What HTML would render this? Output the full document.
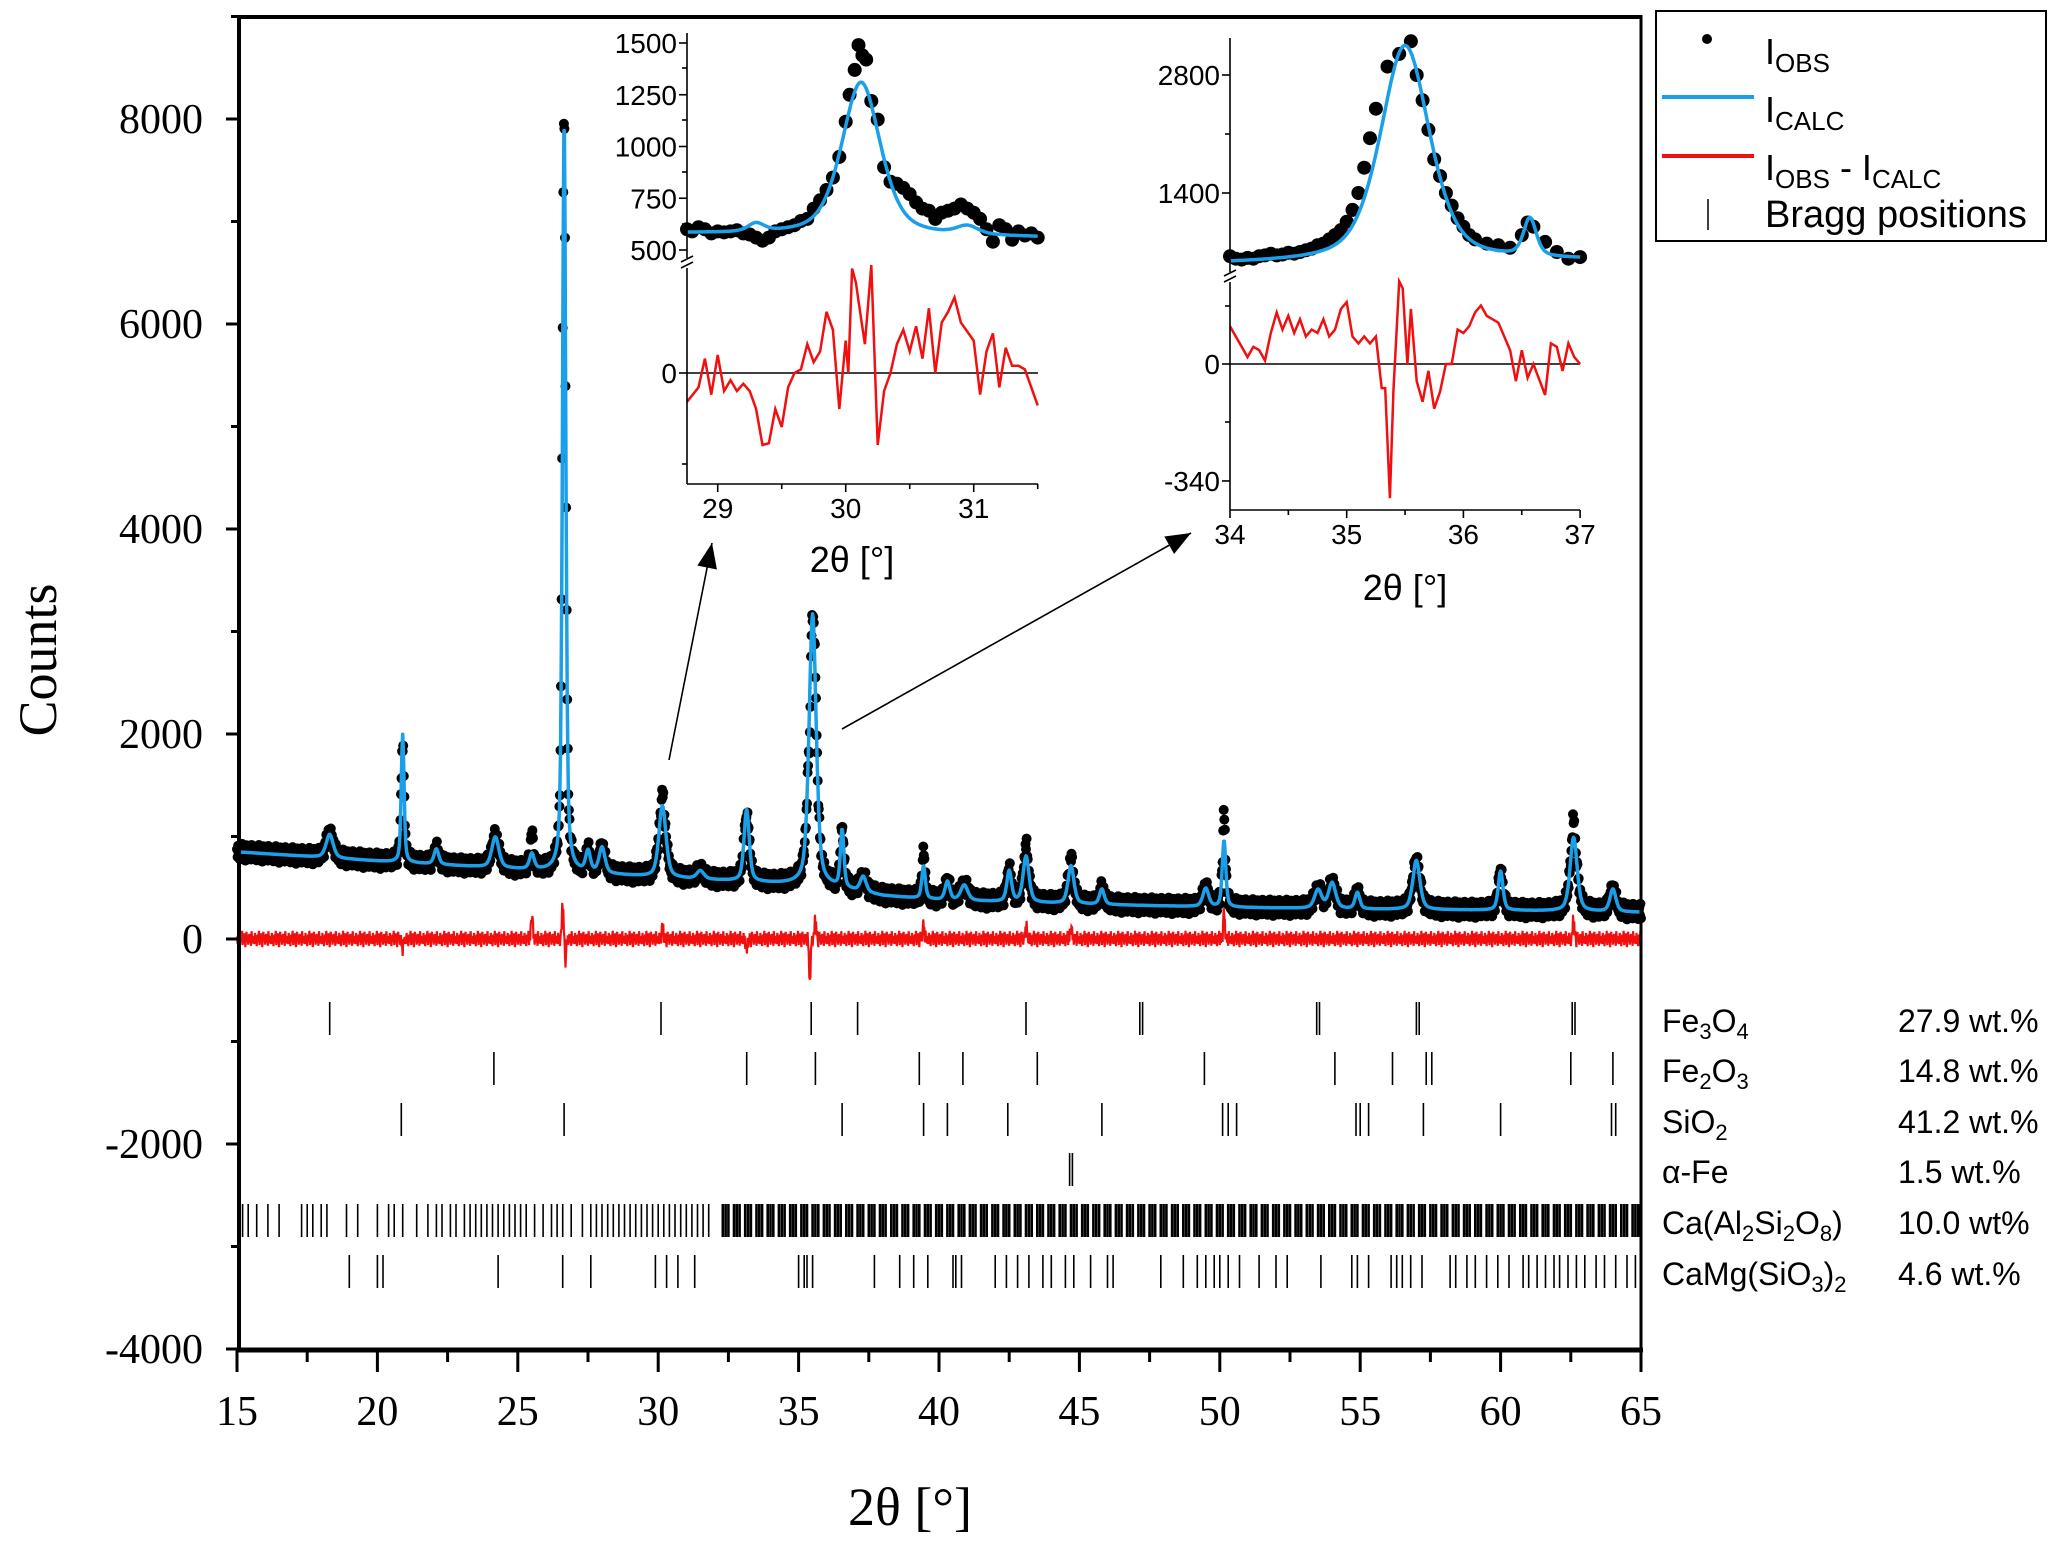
<!DOCTYPE html>
<html><head><meta charset="utf-8"><style>
html,body{margin:0;padding:0;background:#fff;}
svg{display:block;}
.serif{font-family:"Liberation Serif",serif;}
.sans{font-family:"Liberation Sans Narrow","Liberation Sans",sans-serif;}
</style></head><body>
<svg id="chart" width="2067" height="1547" viewBox="0 0 2067 1547" xmlns="http://www.w3.org/2000/svg">
<g id="main"></g>
<g id="inset1"></g>
<g id="inset2"></g>
<g id="legend">
  <rect x="1656" y="11" width="390" height="230" fill="#fff" stroke="#000" stroke-width="2"/>
  <circle cx="1707" cy="39" r="5" fill="#000"/>
  <text class="sans" x="1765" y="64" font-size="36">I<tspan font-size="26" dy="8">OBS</tspan></text>
  <line x1="1662" y1="97" x2="1754" y2="97" stroke="#1a9fe8" stroke-width="4"/>
  <text class="sans" x="1765" y="122" font-size="36">I<tspan font-size="26" dy="8">CALC</tspan></text>
  <line x1="1662" y1="156" x2="1754" y2="156" stroke="#f01010" stroke-width="4"/>
  <text class="sans" x="1765" y="180" font-size="36">I<tspan font-size="26" dy="8">OBS</tspan><tspan dy="-8"> - I</tspan><tspan font-size="26" dy="8">CALC</tspan></text>
  <line x1="1708" y1="199" x2="1708" y2="230" stroke="#000" stroke-width="1.5"/>
  <text class="sans" x="1765" y="227" font-size="38">Bragg positions</text>
</g>
</svg>
<script>
// ===== main pattern data =====
const bgX = [15,20,25,27,30,33,36,38,40,45,50,55,60,65];
const bgY = [850,760,680,650,600,560,510,420,380,340,310,290,280,260];
const peakPos = [18.3,20.9,22.1,24.2,25.5,26.65,27.5,28.0,30.15,31.5,33.15,35.5,36.55,37.3,39.45,40.3,40.9,42.5,43.1,44.7,45.8,49.5,50.15,53.5,54.0,54.9,57.0,60.0,62.6,64.0];
const peakHeight = [230,1250,150,300,150,7350,200,250,700,80,700,2650,560,150,320,180,150,300,450,370,150,180,650,180,250,160,480,380,720,220];
const peakWidth = [0.3,0.12,0.2,0.3,0.2,0.14,0.2,0.25,0.3,0.3,0.22,0.3,0.15,0.25,0.15,0.2,0.3,0.2,0.25,0.25,0.2,0.25,0.15,0.3,0.3,0.2,0.3,0.2,0.3,0.25];
const residSpikePos = [20.9,25.5,26.6,26.7,30.15,33.15,35.4,35.6,39.45,43.1,44.7,50.15,62.6];
const residSpikeVal = [-100,250,350,-200,120,-120,-420,200,150,130,120,250,200];
const residNoise = [24,-50,60,-16,36,-70,10,44,-30,80,-60,16,-40,56,-10,-80,30,70,-24,40,-56,6,50,-36,20,-66,76,-12,28,-44];
const yTicks = [8000,6000,4000,2000,0,-2000,-4000];
const xTicks = [15,20,25,30,35,40,45,50,55,60,65];
// Bragg positions
const phaseNames = ["Fe3O4","Fe2O3","SiO2","a-Fe","Ca(Al2Si2O8)","CaMg(SiO3)2"];
const phaseWt = ["27.9 wt.%","14.8 wt.%","41.2 wt.%","1.5 wt.%","10.0 wt%","4.6 wt.%"];
const braggFe3O4 = [18.3,30.1,35.45,37.1,43.1,47.15,47.25,53.45,53.55,57.0,57.1,62.55,62.65];
const braggFe2O3 = [24.15,33.15,35.6,39.3,40.85,43.5,49.45,54.1,56.15,57.35,57.55,62.5,64.0];
const braggSiO2 = [20.85,26.65,36.55,39.45,40.3,42.45,45.8,50.1,50.3,50.6,54.85,55.0,55.3,57.25,60.0,63.95,64.1];
const braggFe = [44.65,44.75];
const braggAn = [15.2,15.4,15.7,16.1,16.5,17.3,17.5,17.7,18.0,18.2,18.9,19.3,20.0,20.4,20.6,20.9,21.4,21.8,22.1,22.3,22.6,22.8,23.1,23.3,23.5,23.7,23.9,24.1,24.3,24.5,24.7,24.9,25.1,25.3,25.6,25.9,26.2,26.4,26.6,26.9,27.3,27.6,27.8,28.0,28.2,28.4,28.6,28.8,29.0,29.2,29.4,29.6,29.8,30.0,30.2,30.4,30.6,30.8,31.0,31.2,31.4,31.6,31.8,
32.3,32.4,32.5,32.7,32.8,32.9,33.1,33.2,33.3,33.5,33.6,33.7,33.9,34.0,34.1,34.3,34.4,34.5,34.7,34.8,34.9,35.1,35.2,35.3,35.5,35.6,35.7,35.9,36.0,36.1,36.3,36.4,36.5,36.7,36.8,36.9,37.1,37.2,37.3,37.5,37.6,37.7,37.9,38.0,38.1,38.3,38.4,38.5,38.7,38.8,38.9,39.1,39.2,39.3,39.5,39.6,39.7,39.9,40.0,40.1,40.3,40.4,40.5,40.7,40.8,40.9,41.1,41.2,41.3,41.5,41.6,41.7,41.9,42.0,42.1,42.3,42.4,42.5,42.7,42.8,42.9,43.1,43.2,43.3,43.5,43.6,43.7,43.9,44.0,44.1,44.3,44.4,44.5,44.7,44.8,44.9,45.1,45.2,45.3,45.5,45.6,45.7,45.9,46.0,46.1,46.3,46.4,46.5,46.7,46.8,46.9,47.1,47.2,47.3,47.5,47.6,47.7,47.9,48.0,48.1,48.3,48.4,48.5,48.7,48.8,48.9,49.1,49.2,49.3,49.5,49.6,49.7,49.9,50.0,50.1,50.3,50.4,50.5,50.7,50.8,50.9,51.1,51.2,51.3,51.5,51.6,51.7,51.9,52.0,52.1,52.3,52.4,52.5,52.7,52.8,52.9,53.1,53.2,53.3,53.5,53.6,53.7,53.9,54.0,54.1,54.3,54.4,54.5,54.7,54.8,54.9,55.1,55.2,55.3,55.5,55.6,55.7,55.9,56.0,56.1,56.3,56.4,56.5,56.7,56.8,56.9,57.1,57.2,57.3,57.5,57.6,57.7,57.9,58.0,58.1,58.3,58.4,58.5,58.7,58.8,58.9,59.1,59.2,59.3,59.5,59.6,59.7,59.9,60.0,60.1,60.3,60.4,60.5,60.7,60.8,60.9,61.1,61.2,61.3,61.5,61.6,61.7,61.9,62.0,62.1,62.3,62.4,62.5,62.7,62.8,62.9,63.1,63.2,63.3,63.5,63.6,63.7,63.9,64.0,64.1,64.3,64.4,64.5,64.7,64.8,64.9];
const braggDi = [19.0,20.0,20.2,24.3,26.6,27.6,29.9,30.3,30.7,31.3,35.0,35.2,35.3,35.5,37.7,38.6,39.1,39.6,40.5,40.6,40.8,42.0,42.4,42.8,43.2,43.7,44.0,44.5,44.8,45.4,46.0,46.2,47.9,48.7,49.2,49.5,49.8,50.0,50.3,50.7,51.4,52.0,52.4,53.6,54.7,54.9,55.3,56.1,56.3,56.5,56.8,57.2,58.2,58.4,58.8,59.1,59.5,59.9,60.3,60.8,61.0,61.3,61.6,61.9,62.1,62.4,62.7,63.0,63.4,63.7,64.1,64.5,64.8];

// ===== inset 1 data =====
const in1ObsX = [28.76,28.8,28.85,28.9,28.95,29.0,29.05,29.1,29.15,29.2,29.25,29.3,29.35,29.4,29.45,29.5,29.55,29.6,29.65,29.7,29.75,29.8,29.85,29.9,29.95,30.0,30.03,30.07,30.1,30.13,30.16,30.2,30.25,30.3,30.35,30.4,30.45,30.5,30.55,30.6,30.65,30.7,30.75,30.8,30.85,30.9,30.95,31.0,31.05,31.1,31.15,31.2,31.25,31.3,31.35,31.4,31.45,31.5];
const in1ObsY = [600,590,610,600,580,590,585,590,595,580,575,560,545,560,590,600,610,620,640,650,700,740,790,850,950,1120,1250,1370,1490,1440,1420,1220,1130,900,830,820,800,770,730,700,690,650,680,690,700,720,700,680,650,600,540,620,600,550,590,570,580,560];
const in1PeakPos = [29.3,30.12,30.95];
const in1PeakH = [40,740,40];
const in1PeakW = [0.15,0.36,0.2];
const in1ResX = [28.76,28.85,28.9,28.95,29.0,29.05,29.1,29.15,29.2,29.25,29.3,29.35,29.4,29.45,29.5,29.55,29.6,29.65,29.7,29.75,29.8,29.85,29.9,29.95,30.0,30.02,30.05,30.08,30.1,30.15,30.2,30.25,30.3,30.35,30.4,30.45,30.5,30.55,30.6,30.65,30.7,30.75,30.8,30.85,30.9,31.0,31.05,31.1,31.15,31.2,31.25,31.3,31.35,31.4,31.5];
const in1ResY = [-80,-40,40,-60,50,-50,-20,-50,-30,-50,-100,-200,-195,-100,-150,-40,0,10,80,30,60,170,120,-100,90,0,290,250,200,80,300,-200,-50,0,80,120,60,130,40,180,0,140,170,210,140,90,-60,60,110,-40,70,20,20,10,-90];
const in1YTicks = [500,750,1000,1250,1500];
const in1XTicks = [29,30,31];

// ===== inset 2 data =====
const in2ObsX = [34.0,34.05,34.1,34.15,34.2,34.25,34.3,34.35,34.4,34.45,34.5,34.55,34.6,34.65,34.7,34.75,34.8,34.85,34.9,34.95,35.0,35.05,35.1,35.15,35.2,35.25,35.35,35.45,35.55,35.6,35.65,35.7,35.75,35.8,35.85,35.9,35.95,36.0,36.05,36.1,36.2,36.3,36.4,36.5,36.55,36.6,36.7,36.8,36.9,37.0];
const in2ObsY = [650,620,610,630,620,650,660,680,660,670,690,680,700,720,740,780,800,850,900,960,1060,1200,1400,1700,2050,2400,2900,3050,3200,2800,2500,2150,1800,1600,1400,1250,1100,1000,900,850,800,780,750,900,1050,1000,820,700,620,640];
const in2PeakPos = [35.5,36.57];
const in2PeakH = [2570,450];
const in2PeakW = [0.5,0.13];
const in2ResX = [34.0,34.05,34.1,34.15,34.2,34.25,34.3,34.35,34.4,34.45,34.5,34.55,34.6,34.65,34.7,34.75,34.8,34.85,34.9,34.95,35.0,35.05,35.1,35.15,35.2,35.25,35.3,35.33,35.37,35.4,35.45,35.48,35.52,35.55,35.6,35.65,35.7,35.75,35.8,35.85,35.9,35.95,36.0,36.05,36.1,36.15,36.2,36.3,36.4,36.45,36.5,36.55,36.6,36.7,36.75,36.8,36.85,36.9,36.95,37.0];
const in2ResY = [110,80,50,20,50,40,10,90,150,100,140,90,130,80,100,90,130,80,100,160,180,80,60,80,60,80,-70,-70,-390,-80,240,220,0,160,-50,-110,-20,-130,-80,0,0,100,90,110,150,170,140,120,40,-50,40,-40,0,-90,60,50,-20,60,20,0];
const in2YTicksTop = [1400,2800];
const in2YTicksBot = [0,-340];
const in2XTicks = [34,35,36,37];

// ===== helpers =====
const NS = "http://www.w3.org/2000/svg";
function mk(parent, tag, attrs){ const e=document.createElementNS(NS,tag); for(const k in attrs) e.setAttribute(k,attrs[k]); parent.appendChild(e); return e; }
function pv(x,p,w){ const d=(x-p)/w; return 0.5*Math.exp(-4*Math.LN2*d*d)+0.5/(1+4*d*d); }
function interp(xs,ys,x){ if(x<=xs[0])return ys[0]; for(let i=1;i<xs.length;i++){ if(x<=xs[i]){const t=(x-xs[i-1])/(xs[i]-xs[i-1]); return ys[i-1]+t*(ys[i]-ys[i-1]);} } return ys[ys.length-1]; }

// ===== main scales =====
const X = v => 237 + (v-15)*28.08;
const Y = v => 939 - v*0.1025;
const main = document.getElementById('main');

function calcMain(x){ let s=interp(bgX,bgY,x); for(let i=0;i<peakPos.length;i++) s+=peakHeight[i]*pv(x,peakPos[i],peakWidth[i]); return s; }
function residMain(i,x){ let s=residNoise[i%residNoise.length]; for(let k=0;k<residSpikePos.length;k++){ const d=(x-residSpikePos[k])/0.04; s+=residSpikeVal[k]*Math.exp(-d*d);} return s; }

const xs=[]; for(let x=15;x<=65.0001;x+=0.02) xs.push(x);
const obsG = mk(main,'g',{fill:'#000'});


xs.forEach((x,i)=>{ const yo=calcMain(x)+residMain(i,x); mk(obsG,'circle',{cx:X(x).toFixed(1),cy:Y(yo).toFixed(1),r:5}); });
let d=''; xs.forEach((x,i)=>{ d+=(i?'L':'M')+X(x).toFixed(1)+' '+Y(calcMain(x)).toFixed(1); });
const calcPath = mk(main,'path',{d:d,fill:'none',stroke:'#1a9fe8','stroke-width':3.5,'stroke-linejoin':'round'});


d=''; xs.forEach((x,i)=>{ d+=(i?'L':'M')+X(x).toFixed(1)+' '+Y(residMain(i,x)).toFixed(1); });
const resPath = mk(main,'path',{d:d,fill:'none',stroke:'#f01010','stroke-width':2.2});



// Bragg rows
const rowsData=[braggFe3O4,braggFe2O3,braggSiO2,braggFe,braggAn,braggDi];
const rowTop=[1002,1052,1103,1153,1204,1255];
rowsData.forEach((arr,r)=>{
  const g=mk(main,'g',{stroke:'#000','stroke-width':1.6});
  
  
  arr.forEach(v=>{ mk(g,'line',{x1:X(v).toFixed(1),x2:X(v).toFixed(1),y1:rowTop[r],y2:rowTop[r]+33,'stroke-width':(r===4&&v>32)?2.6:1.6}); });
});
const labelHTML=['Fe<tspan font-size="22" dy="7">3</tspan><tspan dy="-7">O</tspan><tspan font-size="22" dy="7">4</tspan>',
 'Fe<tspan font-size="22" dy="7">2</tspan><tspan dy="-7">O</tspan><tspan font-size="22" dy="7">3</tspan>',
 'SiO<tspan font-size="22" dy="7">2</tspan>','α-Fe',
 'Ca(Al<tspan font-size="22" dy="7">2</tspan><tspan dy="-7">Si</tspan><tspan font-size="22" dy="7">2</tspan><tspan dy="-7">O</tspan><tspan font-size="22" dy="7">8</tspan><tspan dy="-7">)</tspan>',
 'CaMg(SiO<tspan font-size="22" dy="7">3</tspan><tspan dy="-7">)</tspan><tspan font-size="22" dy="7">2</tspan>'];
phaseNames.forEach((n,r)=>{
  const t=mk(main,'text',{x:1662,y:rowTop[r]+30,'font-size':32,class:'sans'}); t.innerHTML=labelHTML[r];
  
  
  const w=mk(main,'text',{x:1898,y:rowTop[r]+30,'font-size':32,class:'sans'}); w.textContent=phaseWt[r];
  
  
});

// frame
const frame=mk(main,'g',{stroke:'#000',fill:'none'});


mk(frame,'line',{x1:237,y1:17,x2:1642,y2:17,'stroke-width':4});
mk(frame,'line',{x1:1641,y1:15,x2:1641,y2:1352,'stroke-width':3});
mk(frame,'line',{x1:239,y1:15,x2:239,y2:1352,'stroke-width':4});
mk(frame,'line',{x1:237,y1:1350,x2:1643,y2:1350,'stroke-width':5});
for(let v=-4000; v<=9000; v+=1000){ const major=v%2000===0; mk(frame,'line',{x1:major?226:231,x2:239,y1:Y(v),y2:Y(v),'stroke-width':3}); }
for(let v=15; v<=65; v+=2.5){ const major=v%5===0; mk(frame,'line',{x1:X(v),x2:X(v),y1:1350,y2:major?1372:1362,'stroke-width':3}); }
yTicks.forEach(v=>{ const t=mk(main,'text',{x:203,y:Y(v)+14,'text-anchor':'end','font-size':42,class:'serif'}); t.textContent=v;
    });
xTicks.forEach(v=>{ const t=mk(main,'text',{x:X(v),y:1425,'text-anchor':'middle','font-size':42,class:'serif'}); t.textContent=v;
    });
const yt=mk(main,'text',{x:0,y:0,transform:'translate(56,660) rotate(-90)','text-anchor':'middle','font-size':54,class:'serif'}); yt.textContent='Counts';
 
const xt=mk(main,'text',{x:910,y:1525,'text-anchor':'middle','font-size':54,class:'serif'}); xt.textContent='2θ [°]';
 

// arrows
const defs=mk(main,'defs',{});
const m2=mk(defs,'marker',{id:'ah2',viewBox:'0 0 10 8',markerWidth:26,markerHeight:20,refX:10,refY:4,orient:'auto',markerUnits:'userSpaceOnUse'});
mk(m2,'path',{d:'M0,0 L10,4 L0,8 Z',fill:'#000'});
const a1=mk(main,'line',{x1:669,y1:760,x2:712,y2:543,stroke:'#000','stroke-width':1.6,'marker-end':'url(#ah2)'});
 
const a2=mk(main,'line',{x1:842,y1:729,x2:1191,y2:533,stroke:'#000','stroke-width':1.6,'marker-end':'url(#ah2)'});
 

// ===== inset drawing =====
function drawInset(gid,cfg){
  const g=document.getElementById(gid);
  const XI=v=>cfg.x0+(v-cfg.xmin)*cfg.xs;
  let dd=''; for(let x=cfg.xmin,i=0;x<=cfg.xmax+1e-6;x+=0.01,i++){ let s=interp(cfg.bgX,cfg.bgY,x); for(let k=0;k<cfg.pp.length;k++) s+=cfg.ph[k]*pv(x,cfg.pp[k],cfg.pw[k]); dd+=(i?'L':'M')+XI(x).toFixed(1)+' '+cfg.YU(s).toFixed(1); }
  const og=mk(g,'g',{fill:'#000'});
   
  cfg.ox.forEach((x,i)=>mk(og,'circle',{cx:XI(x).toFixed(1),cy:cfg.YU(cfg.oy[i]).toFixed(1),r:7}));
  const cp=mk(g,'path',{d:dd,fill:'none',stroke:'#1a9fe8','stroke-width':3.5});
   
  mk(g,'line',{x1:cfg.x0,x2:cfg.x1,y1:cfg.YL(0),y2:cfg.YL(0),stroke:'#000','stroke-width':1.6});
  dd=''; cfg.rx.forEach((x,i)=>{ dd+=(i?'L':'M')+XI(x).toFixed(1)+' '+cfg.YL(cfg.ry[i]).toFixed(1); });
  const rp=mk(g,'path',{d:dd,fill:'none',stroke:'#f01010','stroke-width':2.5});
   
  const ax=mk(g,'g',{stroke:'#000','stroke-width':1.6,fill:'none'});
   
  mk(ax,'line',{x1:cfg.x0,x2:cfg.x0,y1:cfg.top,y2:cfg.brk-4});
  mk(ax,'line',{x1:cfg.x0,x2:cfg.x0,y1:cfg.brk+6,y2:cfg.bottom});
  mk(ax,'line',{x1:cfg.x0-6,x2:cfg.x0+6,y1:cfg.brk,y2:cfg.brk-6});
  mk(ax,'line',{x1:cfg.x0-6,x2:cfg.x0+6,y1:cfg.brk+6,y2:cfg.brk});
  mk(ax,'line',{x1:cfg.x0,x2:cfg.x1,y1:cfg.bottom,y2:cfg.bottom});
  cfg.minorY.forEach(y=>mk(ax,'line',{x1:cfg.x0-5,x2:cfg.x0,y1:y,y2:y}));
  cfg.ticksU.forEach(v=>{ mk(ax,'line',{x1:cfg.x0-8,x2:cfg.x0,y1:cfg.YU(v),y2:cfg.YU(v)});
    const t=mk(g,'text',{x:cfg.x0-10,y:cfg.YU(v)+10,'text-anchor':'end','font-size':28,class:'sans'}); t.textContent=v;
      });
  cfg.ticksL.forEach(v=>{ mk(ax,'line',{x1:cfg.x0-8,x2:cfg.x0,y1:cfg.YL(v),y2:cfg.YL(v)});
    const t=mk(g,'text',{x:cfg.x0-10,y:cfg.YL(v)+10,'text-anchor':'end','font-size':28,class:'sans'}); t.textContent=v;
      });
  for(let v=Math.ceil(cfg.xmin*2)/2; v<=cfg.xmax+1e-6; v+=0.5){ const major=Math.abs(v-Math.round(v))<1e-6;
    mk(ax,'line',{x1:XI(v),x2:XI(v),y1:cfg.bottom,y2:cfg.bottom+(major?8:5)}); }
  cfg.xt.forEach(v=>{ const t=mk(g,'text',{x:XI(v),y:cfg.bottom+34,'text-anchor':'middle','font-size':28,class:'sans'}); t.textContent=v;
      });
  const tt=mk(g,'text',{x:cfg.tx,y:cfg.ty,'text-anchor':'middle','font-size':36,class:'sans'}); tt.textContent='2θ [°]';
   
}
drawInset('inset1',{x0:687,x1:1038,xmin:28.76,xmax:31.5,xs:128,top:33,bottom:484,brk:262,
  YU:v=>250-(v-500)*0.207, YL:v=>373-v*0.36,
  bgX:[28.76,31.5],bgY:[580,560], pp:in1PeakPos,ph:in1PeakH,pw:in1PeakW, ox:in1ObsX,oy:in1ObsY, rx:in1ResX,ry:in1ResY,
  ticksU:in1YTicks, ticksL:[0], minorY:[224,172,120,68,464], xt:in1XTicks, tx:852,ty:572});
drawInset('inset2',{x0:1230,x1:1580,xmin:34,xmax:37,xs:116.7,top:38,bottom:510,brk:276,
  YU:v=>311-v*0.08429, YL:v=>364-v*0.344,
  bgX:[34,37],bgY:[560,600], pp:in2PeakPos,ph:in2PeakH,pw:in2PeakW, ox:in2ObsX,oy:in2ObsY, rx:in2ResX,ry:in2ResY,
  ticksU:in2YTicksTop, ticksL:in2YTicksBot, minorY:[134,306,422], xt:in2XTicks, tx:1405,ty:600});
</script>
</body></html>
